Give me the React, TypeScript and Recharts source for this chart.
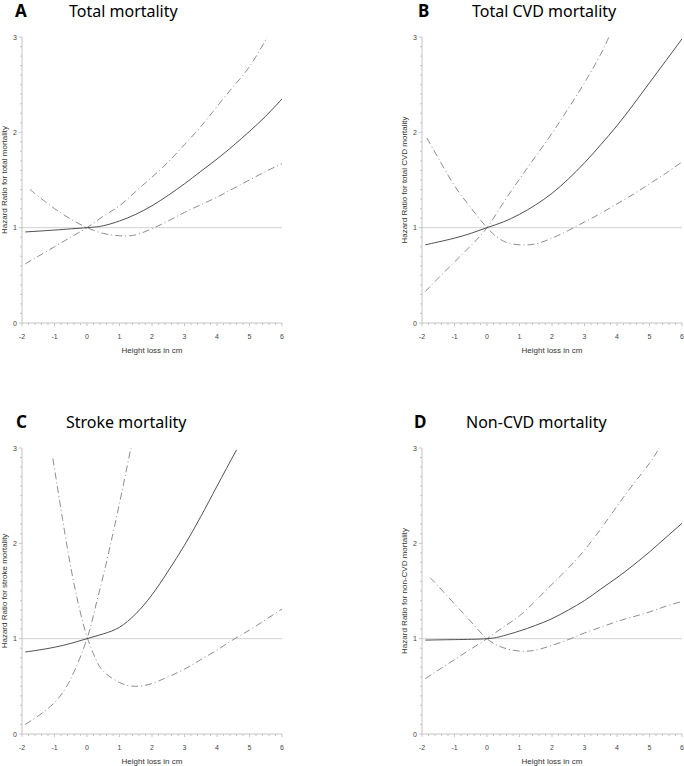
import React from 'react';
import { LineChart, Line, XAxis, YAxis, ReferenceLine } from 'recharts';

const xMajor = [-2, -1, 0, 1, 2, 3, 4, 5, 6];
const yMajor = [0, 1, 2, 3];

// A - total mortality
const aEstX = [-1.9, -1, 0, 0.5, 1, 1.5, 2, 2.5, 3, 3.5, 4, 4.5, 5, 5.5, 6];
const aEstY = [0.955, 0.975, 1.0, 1.02, 1.07, 1.14, 1.23, 1.34, 1.46, 1.59, 1.72, 1.86, 2.01, 2.17, 2.35];
const aHiX = [-1.9, -1.5, -1, -0.5, 0, 0.5, 1, 1.5, 2, 2.5, 3, 3.5, 4, 4.5, 5, 5.55];
const aHiY = [0.62, 0.7, 0.8, 0.9, 1.0, 1.12, 1.23, 1.38, 1.53, 1.69, 1.87, 2.06, 2.27, 2.48, 2.69, 3.0];
const aLoX = [-1.75, -1.5, -1, -0.5, 0, 0.5, 1, 1.5, 2, 2.5, 3, 3.5, 4, 4.5, 5, 5.5, 6];
const aLoY = [1.4, 1.33, 1.2, 1.09, 1.0, 0.94, 0.915, 0.925, 0.99, 1.07, 1.16, 1.24, 1.32, 1.41, 1.5, 1.59, 1.67];

// B - total CVD mortality
const bEstX = [-1.9, -1.5, -1, -0.5, 0, 0.5, 1, 1.5, 2, 2.5, 3, 3.5, 4, 4.5, 5, 5.5, 6];
const bEstY = [0.82, 0.85, 0.89, 0.94, 1.0, 1.06, 1.14, 1.24, 1.36, 1.51, 1.68, 1.87, 2.07, 2.29, 2.52, 2.75, 2.98];
const bHiX = [-1.9, -1.5, -1, -0.5, 0, 0.5, 1, 1.5, 2, 2.5, 3, 3.5, 3.75];
const bHiY = [0.33, 0.47, 0.64, 0.81, 1.0, 1.26, 1.51, 1.75, 1.99, 2.25, 2.52, 2.82, 3.0];
const bLoX = [-1.85, -1.5, -1, -0.5, 0, 0.5, 1, 1.5, 2, 2.5, 3, 3.5, 4, 4.5, 5, 5.5, 6];
const bLoY = [1.94, 1.73, 1.44, 1.21, 1.0, 0.86, 0.82, 0.83, 0.89, 0.97, 1.06, 1.15, 1.25, 1.35, 1.46, 1.57, 1.69];

// C - stroke mortality
const cEstX = [-1.9, -1.5, -1, -0.5, 0, 0.5, 1, 1.5, 2, 2.5, 3, 3.5, 4, 4.6];
const cEstY = [0.86, 0.88, 0.91, 0.95, 1.0, 1.05, 1.12, 1.26, 1.46, 1.71, 1.98, 2.28, 2.6, 2.98];
const cHiX = [-1.9, -1.5, -1, -0.5, 0, 0.25, 0.5, 0.75, 1, 1.35];
const cHiY = [0.1, 0.19, 0.33, 0.58, 1.0, 1.32, 1.66, 2.03, 2.42, 3.0];
const cLoX = [-1.05, -0.75, -0.5, -0.25, 0, 0.25, 0.5, 1, 1.5, 2, 2.5, 3, 3.5, 4, 4.5, 5, 5.5, 6];
const cLoY = [2.89, 2.25, 1.75, 1.34, 1.02, 0.8, 0.66, 0.54, 0.5, 0.53, 0.6, 0.68, 0.78, 0.88, 0.99, 1.09, 1.2, 1.31];

// D - non-CVD mortality
const dEstX = [-1.9, -1, 0, 0.5, 1, 1.5, 2, 2.5, 3, 3.5, 4, 4.5, 5, 5.5, 6];
const dEstY = [0.985, 0.99, 1.0, 1.03, 1.08, 1.14, 1.21, 1.3, 1.4, 1.52, 1.64, 1.77, 1.91, 2.06, 2.21];
const dHiX = [-1.9, -1.5, -1, -0.5, 0, 0.5, 1, 1.5, 2, 2.5, 3, 3.5, 4, 4.5, 5, 5.3];
const dHiY = [0.58, 0.67, 0.78, 0.89, 1.0, 1.12, 1.24, 1.4, 1.57, 1.74, 1.93, 2.15, 2.39, 2.62, 2.84, 3.0];
const dLoX = [-1.75, -1.5, -1, -0.5, 0, 0.5, 1, 1.5, 2, 2.5, 3, 3.5, 4, 4.5, 5, 5.5, 6];
const dLoY = [1.64, 1.55, 1.365, 1.18, 1.0, 0.905, 0.87, 0.88, 0.93, 0.99, 1.06, 1.12, 1.18, 1.23, 1.28, 1.34, 1.39];

const zip = (xs: number[], ys: number[]) => xs.map((x, i) => ({ x, y: ys[i] }));

// minor ticks: 0.2 on x, 0.1 on y
const xTicks = xMajor.slice(0, -1).flatMap(t => [0, 0.2, 0.4, 0.6, 0.8].map(d => +(t + d).toFixed(1))).concat(6);
const yTicks = yMajor.slice(0, -1).flatMap(t => [0, 1, 2, 3, 4, 5, 6, 7, 8, 9].map(d => +(t + d / 10).toFixed(1))).concat(3);

const isMajor = (v: number) => Math.abs(v - Math.round(v)) < 1e-6;
const axisGray = '#c4c4c4';
const tickFont = '"Liberation Sans", Arial, sans-serif';

const XTick = ({ x, y, payload }: any) => {
  const v = payload.value;
  const major = isMajor(v);
  return (
    <g>
      <line x1={x} x2={x} y1={y} y2={y + (major ? 3 : 2)} stroke={axisGray} />
      {major && (
        <text x={x} y={y + 16} textAnchor="middle" fontSize={7} fill="#444" fontFamily={tickFont}>
          {Math.round(v)}
        </text>
      )}
    </g>
  );
};

const YTick = ({ x, y, payload }: any) => {
  const v = payload.value;
  const major = isMajor(v);
  return (
    <g>
      <line x1={x} x2={x - (major ? 3 : 2)} y1={y} y2={y} stroke={axisGray} />
      {major && (
        <text x={x - 5} y={y + 2.5} textAnchor="end" fontSize={7} fill="#444" fontFamily={tickFont}>
          {Math.round(v)}
        </text>
      )}
    </g>
  );
};

interface PanelProps {
  letter: string;
  title: string;
  yLabel: string;
  est: { x: number; y: number }[];
  hi: { x: number; y: number }[];
  lo: { x: number; y: number }[];
  left: number;
  top: number;
  width: number;
  marginRight: number;
  letterX: number;
  titleX: number;
}

function Panel({ letter, title, yLabel, est, hi, lo, left, top, width, marginRight, letterX, titleX }: PanelProps) {
  return (
    <>
      <div style={{ position: 'absolute', left: left + letterX, top: top + 1, fontFamily: '"Noto Sans", sans-serif', fontWeight: 700, fontSize: 17, lineHeight: '20px' }}>
        {letter}
      </div>
      <div style={{ position: 'absolute', left: left + titleX, top: top + 1, fontFamily: '"Noto Sans", sans-serif', fontSize: 16, lineHeight: '20px', whiteSpace: 'nowrap' }}>
        {title}
      </div>
      <div style={{ position: 'absolute', left, top }}>
        <LineChart width={width} height={355} margin={{ top: 37, right: marginRight, bottom: 2, left: 8 }}>
          <XAxis
            type="number"
            dataKey="x"
            domain={[-2, 6]}
            ticks={xTicks}
            interval={0}
            tickSize={0}
            tickMargin={0}
            height={30}
            tick={<XTick />}
            axisLine={{ stroke: axisGray }}
            allowDataOverflow
            label={({ viewBox }: any) => (
              <text x={viewBox.x + viewBox.width / 2} y={viewBox.y + 30} textAnchor="middle" fontSize={8} fill="#333" fontFamily={tickFont}>
                Height loss in cm
              </text>
            )}
          />
          <YAxis
            type="number"
            domain={[0, 3]}
            ticks={yTicks}
            interval={0}
            tickSize={0}
            tickMargin={0}
            width={14}
            tick={<YTick />}
            axisLine={{ stroke: axisGray }}
            allowDataOverflow
            label={({ viewBox }: any) => {
              const cx = viewBox.x - 1;
              const cy = viewBox.y + viewBox.height / 2;
              return (
                <text x={cx} y={cy} transform={`rotate(-90, ${cx}, ${cy})`} textAnchor="middle" fontSize={8} fill="#333" fontFamily={tickFont}>
                  {yLabel}
                </text>
              );
            }}
          />
          <ReferenceLine y={1} stroke="#d2d2d2" strokeWidth={1} />
          <Line data={hi} dataKey="y" type="natural" stroke="#808080" strokeWidth={0.9} strokeDasharray="7 3 1 3" dot={false} isAnimationActive={false} />
          <Line data={lo} dataKey="y" type="natural" stroke="#808080" strokeWidth={0.9} strokeDasharray="7 3 1 3" dot={false} isAnimationActive={false} />
          <Line data={est} dataKey="y" type="natural" stroke="#505050" strokeWidth={1} dot={false} isAnimationActive={false} />
        </LineChart>
      </div>
    </>
  );
}

export default function App() {
  return (
    <div style={{ position: 'absolute', left: 0, top: 0, width: 684, height: 766, background: '#fff', overflow: 'hidden' }}>
      <Panel letter="A" title="Total mortality" yLabel="Hazard Ratio for total mortality"
        est={zip(aEstX, aEstY)} hi={zip(aHiX, aHiY)} lo={zip(aLoX, aLoY)}
        left={0} top={0} width={300} marginRight={18} letterX={15} titleX={69} />
      <Panel letter="B" title="Total CVD mortality" yLabel="Hazard Ratio for total CVD mortality"
        est={zip(bEstX, bEstY)} hi={zip(bHiX, bHiY)} lo={zip(bLoX, bLoY)}
        left={400} top={0} width={284} marginRight={2} letterX={18} titleX={72} />
      <Panel letter="C" title="Stroke mortality" yLabel="Hazard Ratio for stroke mortality"
        est={zip(cEstX, cEstY)} hi={zip(cHiX, cHiY)} lo={zip(cLoX, cLoY)}
        left={0} top={411} width={300} marginRight={18} letterX={16} titleX={66} />
      <Panel letter="D" title="Non-CVD mortality" yLabel="Hazard Ratio for non-CVD mortality"
        est={zip(dEstX, dEstY)} hi={zip(dHiX, dHiY)} lo={zip(dLoX, dLoY)}
        left={400} top={411} width={284} marginRight={2} letterX={14} titleX={66} />
    </div>
  );
}
